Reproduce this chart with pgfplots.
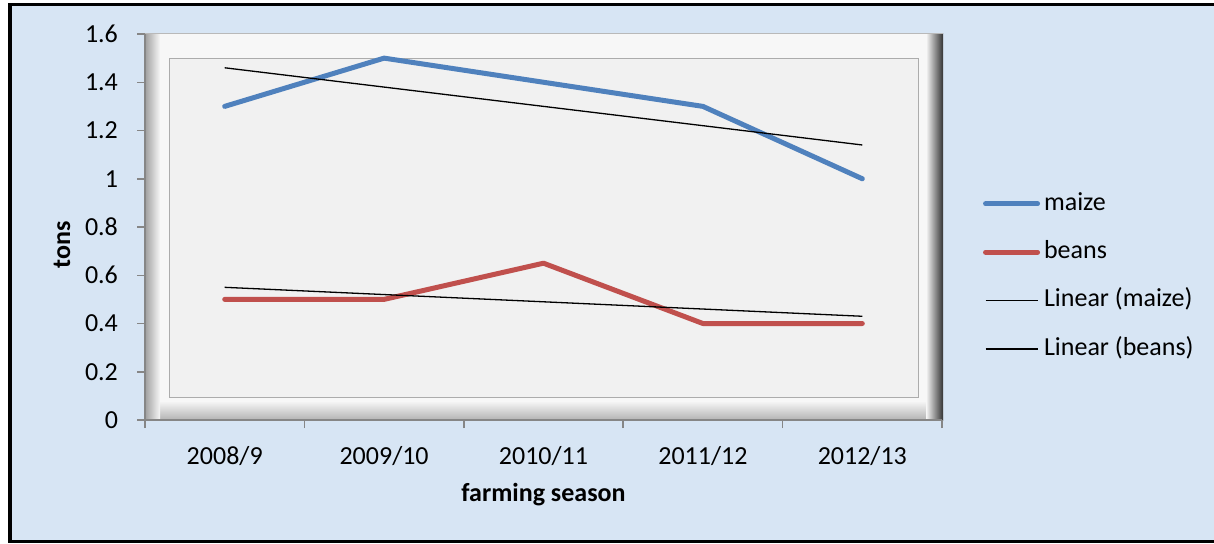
\documentclass[border=0pt]{standalone}
\usepackage{fontspec}
\setmainfont{Carlito}
\usepackage{pgfplots}
\pgfplotsset{compat=1.18}
\definecolor{maizeblue}{HTML}{4F81BD}
\definecolor{beansred}{HTML}{C0504D}
\definecolor{chartbg}{HTML}{D7E5F4}
\definecolor{axisgray}{HTML}{868686}
\definecolor{plotfill}{HTML}{F1F1F1}
\definecolor{framefill}{HTML}{F7F7F7}

\begin{document}
\begin{tikzpicture}
\useasboundingbox (0pt,0pt) rectangle (607pt,271.5pt);
% page background and outer border
\fill[white] (0pt,0pt) rectangle (607pt,271.5pt);
\fill[chartbg] (5pt,0.75pt) rectangle (612pt,269.25pt);
\draw[black, line width=1.7pt] (5pt,0.75pt) rectangle (612pt,269.25pt);
% bevelled frame around the plot area
\fill[framefill] (72.5pt,61.5pt) rectangle (471.5pt,255pt);
\shade[top color=framefill, bottom color=gray!60] (72.5pt,61.5pt) rectangle (471.5pt,71pt);
\shade[left color=gray!75, right color=framefill] (72.5pt,61.5pt) rectangle (80pt,255pt);
\shade[left color=framefill, right color=black!80] (463pt,61.5pt) rectangle (471.5pt,255pt);
\draw[gray!55, line width=0.4pt] (72.5pt,255pt) -- (471.5pt,255pt);
\fill[plotfill] (84.5pt,73pt) rectangle (459pt,242.5pt);
\draw[gray!65, line width=0.5pt] (84.5pt,73pt) rectangle (459pt,242.5pt);

\begin{axis}[
  at={(72.5pt,61.5pt)}, anchor=south west,
  scale only axis, width=398.5pt, height=193pt,
  xmin=0.5, xmax=5.5, ymin=0, ymax=1.6,
  xtick={1,2,3,4,5},
  xticklabels={2008/9,2009/10,2010/11,2011/12,2012/13},
  minor xtick={0.5,1.5,2.5,3.5,4.5,5.5},
  ytick={0,0.2,0.4,0.6,0.8,1,1.2,1.4,1.6},
  axis x line*=bottom, axis y line*=left,
  axis line style={-, draw=axisgray, line width=0.75pt},
  tick align=outside,
  major tick length=4pt, minor tick length=4pt,
  tick style={draw=axisgray, line width=0.75pt},
  major x tick style={draw=none},
  /pgf/number format/assume math mode=true,
  ticklabel style={font=\fontsize{13}{15}\selectfont},
  xticklabel style={yshift=-5.5pt},
  yticklabel style={xshift=-6pt},
  xlabel={farming season}, ylabel={tons},
  label style={font=\fontsize{13}{15}\selectfont\bfseries},
  xlabel style={at={(axis description cs:0.5,-0.194)}, anchor=center},
  ylabel style={at={(axis description cs:-0.104,0.453)}, anchor=center},
  legend style={at={(axis description cs:1.0515,0.372)}, anchor=west,
    draw=none, fill=none, inner sep=0pt, outer sep=0pt,
    font=\fontsize{13}{15}\selectfont,
    nodes={inner sep=0pt, text height=15.2pt, text depth=9pt},
    row sep=0pt,
    /tikz/every odd column/.append style={column sep=2pt}},
  legend cell align=left,
  legend image code/.code={\draw[#1] (0pt,0pt) -- (26pt,0pt);},
]
\addplot[maizeblue, line width=2.5pt, line cap=round, line join=round]
  coordinates {(1,1.3) (2,1.5) (3,1.4) (4,1.3) (5,1.0)};
\addlegendentry{maize}
\addplot[beansred, line width=2.5pt, line cap=round, line join=round]
  coordinates {(1,0.5) (2,0.5) (3,0.65) (4,0.4) (5,0.4)};
\addlegendentry{beans}
% least-squares trend lines of the two series
\addplot[black, line width=0.65pt]
  coordinates {(1,1.46) (2,1.38) (3,1.30) (4,1.22) (5,1.14)};
\addlegendentry{Linear (maize)}
\addplot[black, line width=0.65pt]
  coordinates {(1,0.55) (2,0.52) (3,0.49) (4,0.46) (5,0.43)};
\addlegendentry{Linear (beans)}
\end{axis}
\end{tikzpicture}
\end{document}
